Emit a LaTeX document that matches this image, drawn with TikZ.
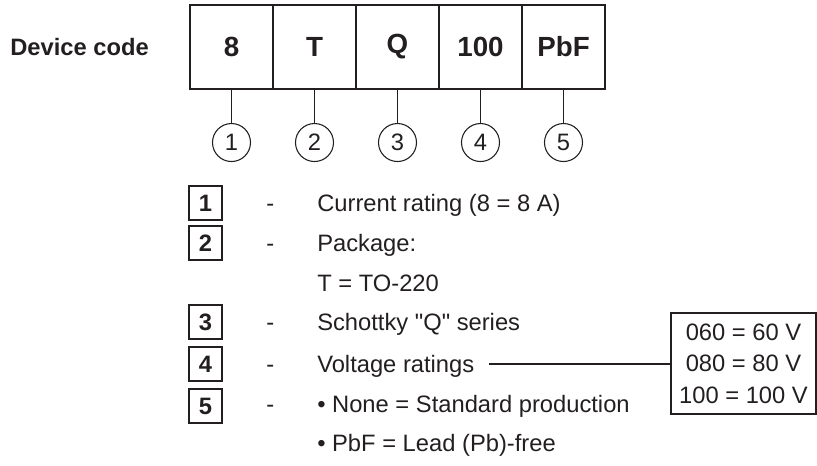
\documentclass[tikz,border=0pt]{standalone}
\usepackage{fontspec}
\setmainfont{Liberation Sans}
\usetikzlibrary{positioning}
\definecolor{dcInk}{RGB}{35,31,32}
\tikzset{
    base/.style={font=\fontsize{17.8}{21}\selectfont, text=dcInk, inner sep=0pt},
    title/.style={base, font=\fontsize{17.8}{21}\selectfont\bfseries},
    cell/.style={base, draw=dcInk, line width=1.6pt, outer sep=0pt,
                 minimum width=62.25pt, minimum height=63pt,
                 font=\fontsize{20.8}{24}\selectfont\bfseries},
    callout/.style={base, circle, draw=dcInk, line width=0.8pt,
                    minimum size=28.5pt},
    keybox/.style={base, draw=dcInk, line width=1.5pt, minimum size=25pt,
                   font=\fontsize{17.8}{21}\selectfont\bfseries},
    desc/.style={base, anchor=west, text height=12.7pt, text depth=0pt},
    ratings/.style={base, draw=dcInk, line width=0.8pt, align=center,
                    minimum width=108.75pt, minimum height=75.75pt,
                    font=\fontsize{17.8}{23.6}\selectfont},
    tick/.style={draw=dcInk, line width=0.8pt},
    link/.style={draw=dcInk, line width=0.8pt}
}
\begin{document}
\begin{tikzpicture}[x=0.75pt, y=-0.75pt]
  \useasboundingbox (0,0) rectangle (817,466);

  % Device code row
  \node[title, anchor=west] (title) at (10,47) {Device code};
  \node[cell] (c1) at (231.5,47) {8};
  \node[cell, right=0pt of c1] (c2) {T};
  \node[cell, right=0pt of c2] (c3) {Q};
  \node[cell, right=0pt of c3] (c4) {100};
  \node[cell, right=0pt of c4] (c5) {PbF};

  % Numbered callouts
  \node[callout, below=25.5pt of c1] (n1) {1};
  \node[callout, below=25.5pt of c2] (n2) {2};
  \node[callout, below=25.5pt of c3] (n3) {3};
  \node[callout, below=25.5pt of c4] (n4) {4};
  \node[callout, below=25.5pt of c5] (n5) {5};
  \draw[tick] (c1) -- (n1);
  \draw[tick] (c2) -- (n2);
  \draw[tick] (c3) -- (n3);
  \draw[tick] (c4) -- (n4);
  \draw[tick] (c5) -- (n5);

  % Legend
  \node[keybox] (k1) at (205.5,203) {1};
  \node[keybox] (k2) at (205.5,243) {2};
  \node[keybox] (k3) at (205.5,322) {3};
  \node[keybox] (k4) at (205.5,364) {4};
  \node[keybox] (k5) at (205.5,406) {5};
  \node[desc] (h1) at (266,203) {-};
  \node[desc] (h2) at (266,243) {-};
  \node[desc] (h3) at (266,322) {-};
  \node[desc] (h4) at (266,364) {-};
  \node[desc] (h5) at (266,404) {-};
  \node[desc] (d1) at (317,203) {Current rating (8 = 8 A)};
  \node[desc] (d2) at (317,243) {Package:};
  \node[desc] (d2a) at (317,283) {T = TO-220};
  \node[desc] (d3) at (317,322) {Schottky \textquotedbl Q\textquotedbl{} series};
  \node[desc] (d4) at (317,364) {Voltage ratings};
  \node[desc] (d5) at (317,404) {\textbullet\ None = Standard production};
  \node[desc] (d5a) at (317,443) {\textbullet\ PbF = Lead (Pb)-free};

  % Voltage ratings box
  \node[ratings] (volt) at (743.5,363.5) {060 = 60 V\\080 = 80 V\\100 = 100 V};
  \coordinate (v4) at ([xshift=11pt]d4.east);
  \draw[link] (v4) -- (v4 -| volt.west);
\end{tikzpicture}
\end{document}
